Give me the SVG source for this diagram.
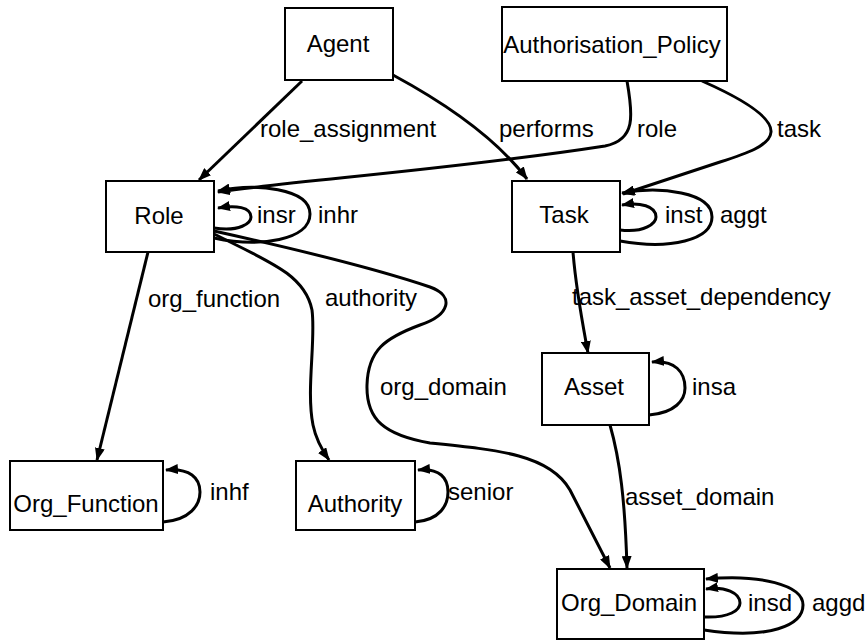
<svg xmlns="http://www.w3.org/2000/svg" width="868" height="640" viewBox="0 0 868 640">
<defs>
<marker id="ah" markerUnits="userSpaceOnUse" markerWidth="14" markerHeight="10" refX="12" refY="5" orient="auto">
<path d="M0,0 L13,5 L0,10 z" fill="#000"/>
</marker>
<style>
.box{fill:#fff;stroke:#000;stroke-width:2}
.t{font-family:"Liberation Sans",Arial,sans-serif;font-size:24px;fill:#000}
.e{fill:none;stroke:#000;stroke-width:3;marker-end:url(#ah)}
</style>
</defs>
<rect width="868" height="640" fill="#fff"/>
<g id="connectors">
<path class="e" d="M302,81 L199,180"/>
<path class="e" d="M393,75 C430,95 490,130 527,179"/>
<path class="e" d="M627,81 C633,115 636,140 605,146 C450,170 300,180 218,192"/>
<path class="e" d="M702,81 C745,100 772,118 771,132 C770,146 745,154 720,162 L623,194"/>
<path class="e" d="M214,238 C260,248 310,240 310,214 C310,188 255,183 218,191"/>
<path class="e" d="M214,228 C240,232 251,223 251,217 C251,207 236,205 218,208"/>
<path class="e" d="M620,241 C670,250 712,240 712,217 C712,192 660,186 622,193"/>
<path class="e" d="M620,230 C645,233 656,223 656,217 C656,206 640,202 622,205"/>
<path class="e" d="M148,252 L97,460"/>
<path class="e" d="M214,234 C270,262 305,275 312,310 C316,340 306,390 313,425 C316,440 322,450 329,460"/>
<path class="e" d="M214,231 C300,250 380,270 430,287 C455,296 450,315 420,325 C385,338 368,350 367,385 C366,420 385,435 430,443 C500,450 550,455 570,490 L610,568"/>
<path class="e" d="M573,252 C576,290 582,320 588,353"/>
<path class="e" d="M610,425 C620,460 625,500 627,568"/>
<path class="e" d="M163,522 C190,520 200,505 200,492 C200,478 190,468 166,470"/>
<path class="e" d="M415,522 C440,520 448,505 448,492 C448,478 440,468 418,470"/>
<path class="e" d="M649,415 C675,413 685,400 685,388 C685,372 675,360 652,362"/>
<path class="e" d="M704,617 C730,618 740,610 740,603 C740,593 725,586 706,589"/>
<path class="e" d="M704,630 C770,640 803,625 803,605 C803,585 760,574 706,579"/>
<g class="t">
<text x="260" y="137">role_assignment</text>
<text x="499" y="137">performs</text>
<text x="637" y="137">role</text>
<text x="777" y="137">task</text>
<text x="257" y="223">insr</text>
<text x="318" y="223">inhr</text>
<text x="665" y="223">inst</text>
<text x="720" y="223">aggt</text>
<text x="148" y="307">org_function</text>
<text x="325" y="306">authority</text>
<text x="572" y="305">task_asset_dependency</text>
<text x="380" y="395">org_domain</text>
<text x="692" y="395">insa</text>
<text x="210" y="500">inhf</text>
<text x="448" y="500">senior</text>
<text x="625" y="505">asset_domain</text>
<text x="748" y="611">insd</text>
<text x="812" y="611">aggd</text>
</g>
</g>
<g id="Agent"><rect class="box" x="285" y="8" width="108" height="72"/><text class="t" x="338" y="52" text-anchor="middle">Agent</text></g>
<g id="Authorisation_Policy"><rect class="box" x="502" y="7" width="225" height="74"/><text class="t" x="612" y="53" text-anchor="middle">Authorisation_Policy</text></g>
<g id="Role"><rect class="box" x="106" y="181" width="108" height="71"/><text class="t" x="159" y="224" text-anchor="middle">Role</text></g>
<g id="Task"><rect class="box" x="512" y="181" width="108" height="71"/><text class="t" x="564" y="223" text-anchor="middle">Task</text></g>
<g id="Asset"><rect class="box" x="542" y="353" width="107" height="72"/><text class="t" x="594" y="395" text-anchor="middle">Asset</text></g>
<g id="Org_Function"><rect class="box" x="10" y="461" width="153" height="69"/><text class="t" x="86" y="512" text-anchor="middle">Org_Function</text></g>
<g id="Authority"><rect class="box" x="296" y="461" width="119" height="69"/><text class="t" x="355" y="512" text-anchor="middle">Authority</text></g>
<g id="Org_Domain"><rect class="box" x="557" y="569" width="147" height="70"/><text class="t" x="629" y="611" text-anchor="middle">Org_Domain</text></g>
</svg>
